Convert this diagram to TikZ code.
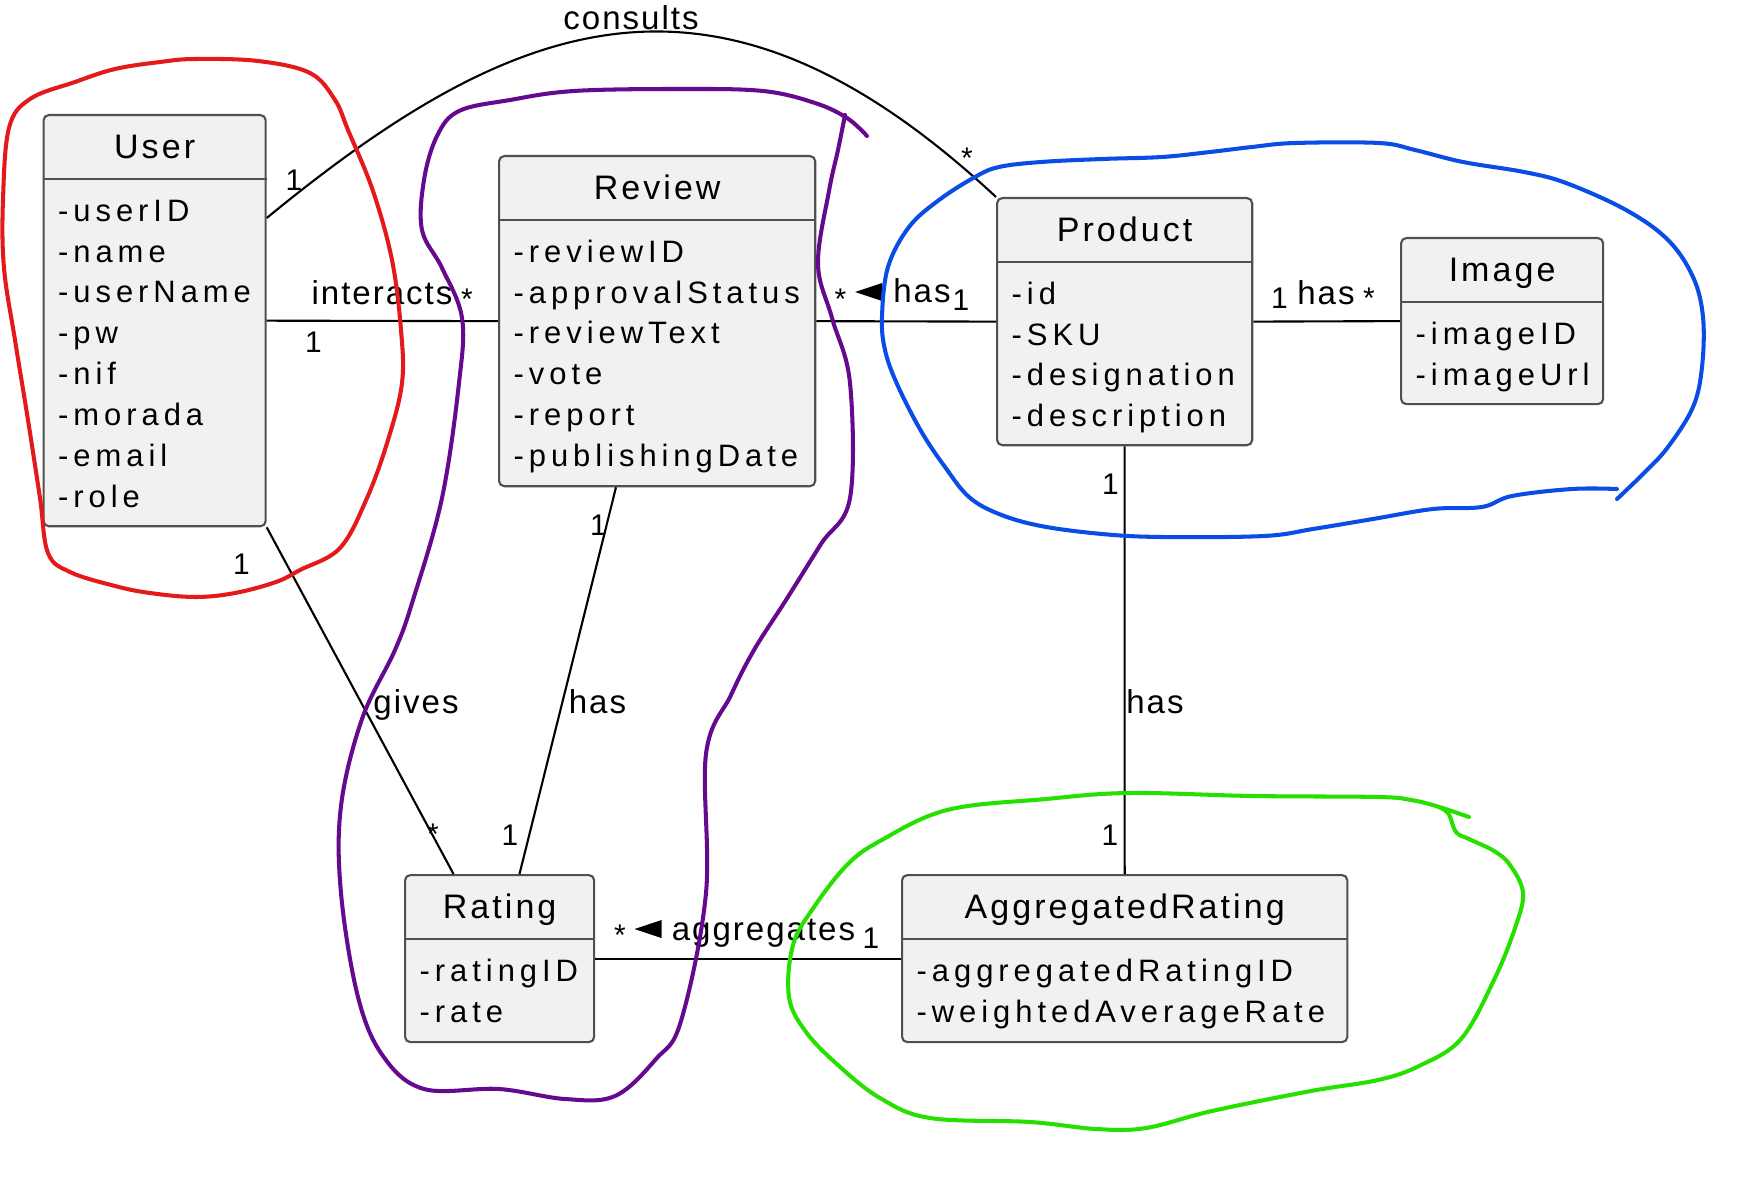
\documentclass[tikz,border=0pt]{standalone}
\usepackage{fontspec}
\newfontfamily\umltitlefont[LetterSpace=9]{Liberation Sans}
\newfontfamily\umlfont[LetterSpace=16]{Liberation Sans}
\newfontfamily\lblfont[LetterSpace=6]{Liberation Sans}
\newfontfamily\multfont{Liberation Sans}
\usetikzlibrary{calc}
\definecolor{boxfill}{HTML}{F1F1F1}
\definecolor{boxline}{HTML}{505050}
\definecolor{scribblered}{HTML}{E3191B}
\definecolor{scribblepurple}{HTML}{650A8F}
\definecolor{scribbleblue}{HTML}{0A4CE6}
\definecolor{scribblegreen}{HTML}{27E000}
\tikzset{
  classbox/.style={draw=boxline, fill=boxfill, line width=0.6pt, rounded corners=1.5pt, inner sep=0pt, anchor=north west},
  classsep/.style={draw=boxline, line width=0.6pt},
  classtitle/.style={font={\umltitlefont\fontsize{9.67pt}{11pt}\selectfont}, inner sep=0pt, text height=0.243cm, text depth=0pt},
  classtext/.style={font={\umlfont\fontsize{8.8pt}{10pt}\selectfont}, inner sep=0pt, text height=0.222cm, text depth=0pt},
  assoclabel/.style={font={\lblfont\fontsize{9.4pt}{11pt}\selectfont}, inner sep=0pt, text height=0.236cm, text depth=0pt},
  mult/.style={font={\multfont\fontsize{8.5pt}{10pt}\selectfont}, inner sep=0pt, text height=0.214cm, text depth=0pt},
  assoc/.style={line width=0.6pt},
  scribble/.style={line width=1.15pt, line cap=round, line join=round},
}
% name, top left, width, height, title, attributes
\newcommand{\umlclass}[6]{%
  \node[classbox, minimum width=#3, minimum height=#4] (#1) at (#2) {};
  \draw[classsep] ($(#1.north west)+(0,65)$) -- ($(#1.north east)+(0,65)$);
  \node[classtitle] (#1-title) at ($(#1.north)+(0,32.5)$) {#5};
  \foreach \a [count=\i] in {#6}
    \node[classtext, anchor=west] (#1-\i) at ($(#1.north west)+(15,{96+40.9*(\i-1)})$) {\a};
}
\def\lefthead(#1){\fill ($(#1)+(-13.5,0)$) -- ($(#1)+(13.5,-9)$) -- ($(#1)+(13.5,9)$) -- cycle;}

\begin{document}
\begin{tikzpicture}[x=0.01cm, y=-0.01cm]
			%%%%% START %%%%%
			\fill[white] (0,0) rectangle (1751,1194);
			\useasboundingbox (0,0) rectangle (1751,1194);
			
			\umlclass{user}{42.5,114}{2.22cm}{4.11cm}{User}{-userID,-name,-userName,-pw,-nif,-morada,-email,-role}
			\umlclass{review}{498,155}{3.16cm}{3.30cm}{Review}{-reviewID,-approvalStatus,-reviewText,-vote,-report,-publishingDate}
			\umlclass{product}{996,197}{2.55cm}{2.47cm}{Product}{-id,-SKU,-designation,-description}
			\umlclass{image}{1400,237}{2.02cm}{1.66cm}{Image}{-imageID,-imageUrl}
			\umlclass{rating}{404,874}{1.89cm}{1.67cm}{Rating}{-ratingID,-rate}
			\umlclass{aggr}{901,874}{4.45cm}{1.67cm}{AggregatedRating}{-aggregatedRatingID,-weightedAverageRate}
			
			\coordinate (user-out) at ($(user.north east)+(0,104)$);
			\coordinate (review-out) at ($(review.south west)+(118,0)$);
			\coordinate (rating-in1) at ($(rating.north west)+(49.5,0)$);
			\coordinate (rating-in2) at ($(rating.north west)+(115.5,0)$);
			
			\draw[assoc] (user-out) .. controls (520,10) and (720,-60) .. (product.north west);
			\draw[assoc] (user.east) -- (review.west);
			\draw[assoc] (review.east) -- (product.west);
			\draw[assoc] (product.east) -- (image.west);
			\draw[assoc] (user.south east) -- (rating-in1);
			\draw[assoc] (review-out) -- (rating-in2);
			\draw[assoc] (product.south) -- (aggr.north);
			\draw[assoc] (rating.east) -- (aggr.west);
			
			\node[assoclabel] (consults) at (631,18) {consults};
			\node[mult] (m-consults-a) at (294,180) {1};
			\node[mult] (m-consults-b) at (967,158) {*};
			
			\node[assoclabel] (interacts) at (382,293) {interacts};
			\node[mult] (m-interacts-a) at (313.5,341.5) {1};
			\node[mult] (m-interacts-b) at (467,299) {*};
			
			\node[mult] (m-review-a) at (840.5,298.5) {*};
			\coordinate (tri-review) at (868.5,292);
			\lefthead(tri-review)
			\node[assoclabel] (has-review) at (922,291) {has};
			\node[mult] (m-review-b) at (961,300) {1};
			
			\node[mult] (m-image-a) at (1279.5,298) {1};
			\node[assoclabel] (has-image) at (1326,292.5) {has};
			\node[mult] (m-image-b) at (1369,297.5) {*};
			
			\node[mult] (m-aggr-a) at (1110.5,483.5) {1};
			\node[assoclabel] (has-aggr) at (1155,701.5) {has};
			\node[mult] (m-aggr-b) at (1110,834.5) {1};
			
			\node[mult] (m-gives-a) at (241.5,564) {1};
			\node[assoclabel] (gives) at (416,701.5) {gives};
			\node[mult] (m-gives-b) at (433,834) {*};
			
			\node[mult] (m-rating-a) at (598.5,524.5) {1};
			\node[assoclabel] (has-rating) at (597.5,701.5) {has};
			\node[mult] (m-rating-b) at (510,834.5) {1};
			
			\node[mult] (m-aggregates-a) at (620,935) {*};
			\coordinate (tri-aggr) at (648,929);
			\lefthead(tri-aggr)
			\node[assoclabel] (aggregates) at (763.5,929) {aggregates};
			\node[mult] (m-aggregates-b) at (871,937.5) {1};
			
			% scribbles
			\draw[scribble, scribblered] plot[smooth cycle, tension=0.6] coordinates {(195,597) (150,593) (115,586) (70,572) (48,553) (40,498) (28,420) (15,340) (4,268) (3,200) (9,128) (30,99) (75,82) (115,69) (160,62) (195,59) (258,61) (310,73) (335,100) (348,130) (373,191) (392,260) (401,330) (402,383) (388,440) (367,498) (340,548) (300,570) (276,582) (235,593)};
			\draw[scribble, scribblepurple] plot[smooth, tension=0.6] coordinates {(845,115) (838,150) (829,191) (818,264) (832,318) (850,383) (850,498) (821,544) (786,600) (754,650) (731,695) (706,754) (706,893) (681,1021) (656,1059) (615,1096) (565,1099) (499,1089) (424,1089) (383,1056) (358,997) (341,893) (341,806) (362,719) (395,650) (413,600) (442,498) (459,383) (462,318) (442,268) (422,230) (424,180) (437,136) (459,111) (510,100) (574,91) (680,89) (763,91) (815,103) (847,118) (867,136)};
			\draw[scribble, scribbleblue] plot[smooth, tension=0.6] coordinates {(1617,489) (1572,489) (1512,496) (1482,507) (1433,509) (1373,519) (1313,529) (1264,536) (1162,537) (1102,534) (1041,526) (999,514) (969,497) (945,467) (921,431) (897,384) (885,350) (882,317) (888,267) (909,227) (939,200) (975,177) (999,167) (1041,162) (1102,159) (1162,157) (1210,152) (1252,147) (1295,143) (1379,143) (1415,150) (1463,162) (1524,172) (1566,183) (1626,210) (1668,240) (1693,277) (1703,317) (1702,367) (1693,407) (1668,447) (1644,473) (1617,499)};
			\draw[scribble, scribblegreen] plot[smooth, tension=0.6] coordinates {(1469,817) (1436,806) (1411,800) (1378,797) (1253,796) (1129,793) (1046,799) (947,810) (880,841) (847,865) (814,907) (793,945) (789,997) (806,1032) (839,1066) (880,1098) (930,1118) (1030,1122) (1096,1129) (1146,1128) (1212,1111) (1311,1091) (1378,1080) (1419,1066) (1461,1039) (1494,980) (1515,928) (1523,893) (1510,865) (1494,851) (1469,839) (1456,832) (1448,813) (1436,806)};
			%%%%% END %%%%%
\end{tikzpicture}
\end{document}
